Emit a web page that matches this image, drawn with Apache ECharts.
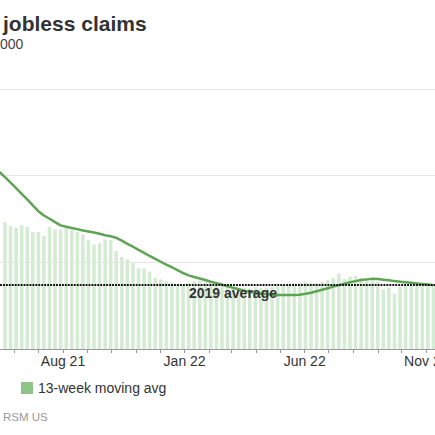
<!DOCTYPE html>
<html>
<head>
<meta charset="utf-8">
<script src="https://cdn.jsdelivr.net/npm/echarts@6/dist/echarts.min.js"></script>
<style>
html,body{margin:0;padding:0;background:#fff;overflow:hidden;width:435px;height:435px;}
#chart{width:435px;height:435px;display:block;overflow:hidden;}
</style>
</head>
<body>
<div id="chart"></div>
<script>
// ---- data (weekly, thousands) ----
const firstWeek = [2021, 5, 13]; // first weekly observation (year, month, day)
const weeklyClaims = [null,
  440, 426, 420, 429, 422, 405, 405, 392, 422, 414, 414, 420, 412,
  406, 397, 378, 362, 366, 379, 377, 339, 319, 310, 297, 280, 278,
  268, 246, 241, 234, 230, 225, 222, 228, 235, 237, 234, 228, 222,
  218, 214, 210, 211, 213, 210, 214, 211, 213, 214, 216, 222, 227,
  228, 230, 233, 230, 228, 232, 239, 245, 261, 242, 251, 253, 246,
  244, 235, 232, 206, 213, 192, 215, 220, 219, 220, 218, 218, 218];
const movingAvg13 = [613,
  595, 576, 557, 537, 518, 497, 477, 462, 451, 439, 428, 423, 419,
  415, 410, 407, 403, 399, 394, 390, 385, 375, 364, 354, 343, 333,
  322, 312, 302, 292, 283, 273, 263, 255, 249, 244, 239, 233, 228,
  223, 217, 212, 207, 202, 198, 194, 191, 190, 188, 187, 187, 187,
  187, 188, 191, 195, 200, 205, 210, 216, 221, 226, 231, 235, 239,
  241, 243, 242, 240, 238, 235, 233, 231, 229, 227, 225, 223, 221];
const average2019 = 221;
const xTickDates = ['2021-08-01', '2022-01-01', '2022-06-01', '2022-11-01'];
const xTickLabels = ['Aug 21', 'Jan 22', 'Jun 22', 'Nov 22'];
const yTicks = [0, 300, 600, 900];
const titleText = 'jobless claims';
const subtitleText = '000';
const sourceText = 'RSM US';
const lineName = '13-week moving avg';

// ---- build ----
const dates = weeklyClaims.map((_, i) => new Date(firstWeek[0], firstWeek[1] - 1, firstWeek[2] + 7 * i).getTime());
const barData = weeklyClaims.map((v, i) => [dates[i], v]);
const lineData = movingAvg13.map((v, i) => [dates[i], v]);
const tickKeys = xTickDates.map(s => { const p = s.split('-'); return (+p[0]) * 12 + (+p[1] - 1); });

const FONT = "'Liberation Sans', Arial, Helvetica, sans-serif";
const chart = echarts.init(document.getElementById('chart'), null, {renderer: 'svg', width: 435, height: 435});
chart.setOption({
  animation: false,
  backgroundColor: '#fff',
  textStyle: {fontFamily: FONT},
  title: [
    {text: titleText, left: 3, top: 13, padding: 0,
     textStyle: {fontSize: 21, fontWeight: 'bold', color: '#333', fontFamily: FONT}},
    {text: subtitleText, left: 0, top: 37, padding: 0,
     textStyle: {fontSize: 14, fontWeight: 'normal', color: '#444', fontFamily: FONT}},
    {text: sourceText, left: 3, top: 411, padding: 0,
     textStyle: {fontSize: 11.5, fontWeight: 'normal', color: '#999', fontFamily: FONT}}
  ],
  legend: {
    left: 21, top: 381, padding: 0, icon: 'rect', itemWidth: 12, itemHeight: 12, itemGap: 10,
    data: [{name: lineName, itemStyle: {color: '#8cc489'}}],
    textStyle: {fontSize: 14, color: '#333', fontFamily: FONT},
    selectedMode: false
  },
  grid: {left: 0, right: 0, top: 89, bottom: 86, containLabel: false, outerBoundsMode: 'none'},
  xAxis: {
    type: 'time',
    min: new Date(2021, 4, 16).getTime(),
    max: new Date(2022, 10, 9, 17).getTime(),
    minInterval: 28 * 864e5,
    maxInterval: 31 * 864e5,
    axisLine: {show: true, lineStyle: {color: '#999', width: 1}},
    axisTick: {show: true, length: 4, lineStyle: {color: '#999'}},
    splitLine: {show: false},
    minorTick: {show: false},
    minorSplitLine: {show: false},
    axisLabel: {
      show: true, margin: 5, fontSize: 14, color: '#333', fontFamily: FONT,
      hideOverlap: false,
      formatter: function (value) {
        const d = new Date(value);
        const idx = tickKeys.indexOf(d.getFullYear() * 12 + d.getMonth());
        return (idx >= 0 && d.getDate() === 1) ? xTickLabels[idx] : '';
      }
    }
  },
  yAxis: {
    type: 'value', min: yTicks[0], max: yTicks[yTicks.length - 1], interval: yTicks[1] - yTicks[0],
    axisLine: {show: false}, axisTick: {show: false}, axisLabel: {show: false},
    splitLine: {show: true, lineStyle: {color: '#e6e6e6', width: 1}}
  },
  series: [
    {
      name: 'Weekly claims', type: 'bar', data: barData, barWidth: 3.6,
      itemStyle: {color: '#d6ebd4', borderWidth: 0}, clip: true, z: 1,
      markLine: {
        silent: true, symbol: ['none', 'none'], z: 5,
        lineStyle: {color: '#111', width: 2, type: [1.9, 1.05]},
        label: {show: true, position: 'insideStartBottom', distance: [189, 1],
                formatter: '2019 average', fontSize: 14, fontWeight: 'bold', color: '#333', fontFamily: FONT},
        data: [{yAxis: average2019}]
      }
    },
    {
      name: lineName, type: 'line', data: lineData, showSymbol: false, symbol: 'none',
      clip: true, z: 3,
      itemStyle: {color: '#8cc489'},
      lineStyle: {color: '#5ea454', width: 2.5}
    }
  ]
});
</script>
</body>
</html>
